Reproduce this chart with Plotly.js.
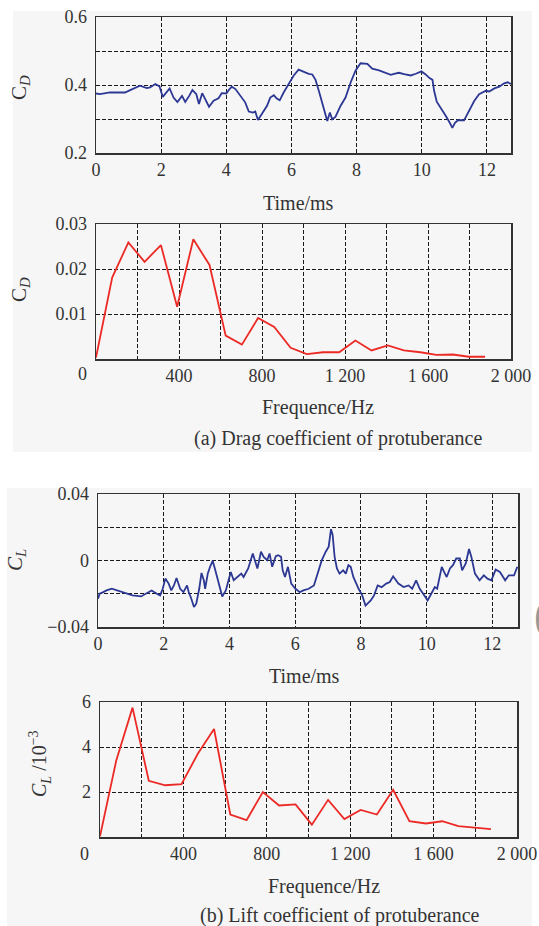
<!DOCTYPE html>
<html><head><meta charset="utf-8">
<script src="https://cdn.plot.ly/plotly-3.0.1.min.js"></script>
<style>html,body{margin:0;padding:0;background:#fff}#chart{width:539px;height:926px}</style>
</head><body><div id="chart"></div>
<script>
// ---- data ----
const cdTime = [0,0.12,0.43,0.89,1.05,1.35,1.56,1.66,1.82,1.95,2.05,2.15,2.26,2.38,2.5,2.64,2.74,2.86,2.96,3.08,3.16,3.26,3.37,3.47,3.61,3.76,3.86,4.0,4.1,4.17,4.28,4.43,4.58,4.69,4.82,4.89,4.97,5.1,5.25,5.35,5.46,5.54,5.64,5.76,5.92,6.07,6.22,6.38,6.53,6.64,6.74,6.84,6.94,7.05,7.1,7.18,7.25,7.35,7.51,7.66,7.82,7.97,8.12,8.33,8.48,8.69,8.89,9.05,9.15,9.3,9.46,9.66,9.82,9.99,10.12,10.23,10.33,10.38,10.46,10.58,10.74,10.86,10.94,11.02,11.12,11.3,11.46,11.61,11.76,11.97,12.07,12.23,12.38,12.53,12.64,12.74];
const cdValue = [0.375,0.373,0.378,0.378,0.385,0.398,0.391,0.393,0.403,0.396,0.365,0.378,0.39,0.363,0.35,0.368,0.35,0.368,0.385,0.373,0.344,0.376,0.355,0.336,0.354,0.361,0.376,0.375,0.388,0.395,0.388,0.368,0.349,0.322,0.319,0.322,0.297,0.316,0.339,0.363,0.37,0.361,0.355,0.378,0.403,0.428,0.445,0.438,0.433,0.431,0.415,0.383,0.349,0.314,0.294,0.319,0.299,0.306,0.339,0.363,0.408,0.443,0.464,0.462,0.448,0.443,0.436,0.43,0.433,0.436,0.432,0.428,0.433,0.44,0.431,0.421,0.415,0.383,0.351,0.334,0.309,0.289,0.274,0.289,0.297,0.296,0.324,0.353,0.373,0.383,0.381,0.39,0.395,0.405,0.408,0.403];

const clTime = [0,0.05,0.16,0.26,0.42,0.58,0.84,1.05,1.31,1.47,1.63,1.79,1.89,1.97,2.05,2.15,2.23,2.31,2.39,2.5,2.6,2.71,2.76,2.84,2.92,2.99,3.08,3.15,3.22,3.26,3.34,3.41,3.49,3.57,3.68,3.78,3.89,3.97,4.04,4.13,4.23,4.36,4.43,4.57,4.71,4.78,4.85,4.96,5.04,5.15,5.22,5.3,5.41,5.48,5.57,5.62,5.69,5.78,5.88,6.01,6.14,6.25,6.41,6.57,6.67,6.81,6.93,7.02,7.09,7.14,7.2,7.27,7.35,7.46,7.54,7.62,7.69,7.77,7.93,8.04,8.14,8.3,8.4,8.51,8.63,8.77,8.88,8.98,9.14,9.3,9.45,9.56,9.68,9.79,9.93,10.03,10.14,10.25,10.32,10.46,10.53,10.61,10.71,10.8,10.9,11.01,11.08,11.19,11.29,11.36,11.47,11.61,11.74,11.85,11.97,12.1,12.23,12.39,12.5,12.66,12.76];
const clValue = [-0.023,-0.02,-0.019,-0.018,-0.017,-0.018,-0.0196,-0.021,-0.0216,-0.02,-0.018,-0.02,-0.021,-0.017,-0.0109,-0.0139,-0.018,-0.015,-0.0105,-0.017,-0.019,-0.015,-0.019,-0.023,-0.028,-0.026,-0.017,-0.0075,-0.0119,-0.017,-0.0079,-0.0038,-0.0002,-0.0059,-0.0139,-0.0216,-0.018,-0.0119,-0.0069,-0.0119,-0.0099,-0.0079,-0.0099,-0.0048,0.0042,0.0002,-0.0048,0.0053,0.0022,0.0002,0.0042,-0.0038,0.0026,0.0032,0.0022,-0.0059,-0.0099,-0.0038,-0.0139,-0.017,-0.019,-0.018,-0.017,-0.015,-0.0089,0.0002,0.0053,0.0083,0.0188,0.0154,0.0022,-0.0048,-0.0079,-0.0059,-0.0079,-0.0028,-0.0038,-0.0099,-0.017,-0.021,-0.0271,-0.024,-0.021,-0.015,-0.016,-0.0139,-0.0129,-0.0095,-0.0139,-0.016,-0.015,-0.017,-0.0119,-0.017,-0.021,-0.024,-0.02,-0.016,-0.017,-0.0038,-0.0069,-0.0099,-0.0048,-0.0028,0.0012,0.0012,-0.0059,-0.0018,0.0069,0.0022,-0.0079,-0.0119,-0.0089,-0.0109,-0.0119,-0.0055,-0.0069,-0.0119,-0.0089,-0.0089,-0.0038];

const freqHz = [0,78,156,234,313,391,469,547,625,703,781,859,938,1016,1094,1172,1250,1328,1406,1484,1563,1641,1719,1797,1875];
const cdAmplitude = [0.0003,0.0181,0.0259,0.0216,0.0253,0.0116,0.0266,0.0209,0.0052,0.0032,0.0091,0.0071,0.0025,0.0011,0.0015,0.0015,0.0041,0.0019,0.003,0.0019,0.0015,0.0009,0.001,0.0005,0.0005];
const clAmplitude = [0.03,3.4,5.75,2.5,2.3,2.35,3.7,4.8,1.0,0.75,2.0,1.4,1.45,0.55,1.65,0.8,1.2,1.0,2.1,0.7,0.6,0.7,0.48,0.4,0.35];

const timeTicks = [0,2,4,6,8,10,12];
const freqTickVals = [0,200,400,600,800,1000,1200,1400,1600,1800,2000];
const freqTickText = ['','','400','','800','','1 200','','1 600','','2 000'];
const cdTickVals = [0.2,0.3,0.4,0.5,0.6];
const cdTickText = ['0.2','','0.4','','0.6'];
const cdAmpTickVals = [0,0.01,0.02,0.03];
const cdAmpTickText = ['','0.01','0.02','0.03'];
const clTickVals = [-0.04,-0.02,0,0.02,0.04];
const clTickText = ['\u22120.04','','0','','0.04'];
const clAmpTickVals = [0,2,4,6];
const clAmpTickText = ['','2','4','6'];

// ---- layout helpers ----
const W = 539, H = 926;
const fx = p => p / W;
const fy = p => 1 - p / H;
const FONT = 'Liberation Serif, Times New Roman, serif';
const BLUE = '#2c3894', RED = '#ec2a25';
const TICK = 18, LABEL = 20;

function axisStyle(extra) {
  return Object.assign({
    showline: true, mirror: true, linecolor: '#333', linewidth: 1.5,
    showgrid: true, gridcolor: '#1a1a1a', gridwidth: 1, griddash: '4px,2px',
    zeroline: false, ticks: '', tickmode: 'array',
    tickfont: {family: FONT, size: TICK, color: '#333'},
    fixedrange: true
  }, extra);
}
const xStyle = e => axisStyle(Object.assign({ticklabelstandoff: 0}, e));
const yStyle = e => axisStyle(Object.assign({ticklabelstandoff: 4}, e));

const traces = [
  {x: cdTime, y: cdValue, xaxis: 'x', yaxis: 'y', mode: 'lines', line: {color: BLUE, width: 1.8}, hoverinfo: 'skip'},
  {x: freqHz, y: cdAmplitude, xaxis: 'x2', yaxis: 'y2', mode: 'lines', line: {color: RED, width: 1.8}, hoverinfo: 'skip'},
  {x: clTime, y: clValue, xaxis: 'x3', yaxis: 'y3', mode: 'lines', line: {color: BLUE, width: 1.8}, hoverinfo: 'skip'},
  {x: freqHz, y: clAmplitude, xaxis: 'x4', yaxis: 'y4', mode: 'lines', line: {color: RED, width: 1.8}, hoverinfo: 'skip'}
];

function ann(text, px, py, size, extra) {
  return Object.assign({
    text: text, xref: 'paper', yref: 'paper', x: fx(px), y: fy(py),
    xanchor: 'center', yanchor: 'middle', showarrow: false,
    font: {family: FONT, size: size, color: '#333'}
  }, extra || {});
}

const annotations = [
  ann('C<sub><i>D</i></sub>', 20, 88, 21, {textangle: -90}),
  ann('Time/ms', 298, 203, LABEL),
  ann('C<sub><i>D</i></sub>', 20, 290, 21, {textangle: -90}),
  ann('0', 82, 374, TICK),
  ann('Frequence/Hz', 318, 408, LABEL),
  ann('(a) Drag coefficient of protuberance', 338, 438, LABEL),
  ann('<i>C</i><sub><i>L</i></sub>', 16, 560, 21, {textangle: -90}),
  ann('Time/ms', 304, 676, LABEL),
  ann('<i>C</i><sub><i>L</i></sub> /10<sup>\u22123</sup>', 40, 764, 20, {textangle: -90}),
  ann('0', 84, 854, TICK),
  ann('Frequence/Hz', 324, 886, LABEL),
  ann('(b) Lift coefficient of protuberance', 340, 915, LABEL),
  ann('(', 541, 615, 44, {font: {family: FONT, size: 44, color: '#999'}})
];

const shapes = [
  {type: 'rect', xref: 'paper', yref: 'paper', x0: fx(13), x1: fx(532), y0: fy(452), y1: fy(11), fillcolor: '#f6f6f6', line: {width: 0}, layer: 'below'},
  {type: 'rect', xref: 'paper', yref: 'paper', x0: fx(7), x1: fx(532), y0: fy(926), y1: fy(488), fillcolor: '#f6f6f6', line: {width: 0}, layer: 'below'}
];

const layout = {
  width: W, height: H, margin: {l: 0, r: 0, t: 0, b: 0},
  paper_bgcolor: '#ffffff', plot_bgcolor: '#ffffff', showlegend: false,
  xaxis: xStyle({domain: [fx(96), fx(511)], anchor: 'y', range: [0, 12.74], tickvals: timeTicks, ticktext: timeTicks.map(String)}),
  yaxis: yStyle({domain: [fy(153), fy(17)], anchor: 'x', range: [0.2, 0.6], tickvals: cdTickVals, ticktext: cdTickText}),
  xaxis2: xStyle({domain: [fx(96), fx(511)], anchor: 'y2', range: [0, 2000], tickvals: freqTickVals, ticktext: freqTickText}),
  yaxis2: yStyle({domain: [fy(359), fy(224)], anchor: 'x2', range: [0, 0.03], tickvals: cdAmpTickVals, ticktext: cdAmpTickText}),
  xaxis3: xStyle({domain: [fx(98), fx(518)], anchor: 'y3', range: [0, 12.78], tickvals: timeTicks, ticktext: timeTicks.map(String)}),
  yaxis3: yStyle({domain: [fy(627), fy(494)], anchor: 'x3', range: [-0.04, 0.04], tickvals: clTickVals, ticktext: clTickText}),
  xaxis4: xStyle({domain: [fx(100), fx(517)], anchor: 'y4', range: [0, 2000], tickvals: freqTickVals, ticktext: freqTickText}),
  yaxis4: yStyle({domain: [fy(837), fy(702)], anchor: 'x4', range: [0, 6], tickvals: clAmpTickVals, ticktext: clAmpTickText}),
  annotations: annotations,
  shapes: shapes
};

Plotly.newPlot('chart', traces, layout, {staticPlot: true, displayModeBar: false});
</script></body></html>
